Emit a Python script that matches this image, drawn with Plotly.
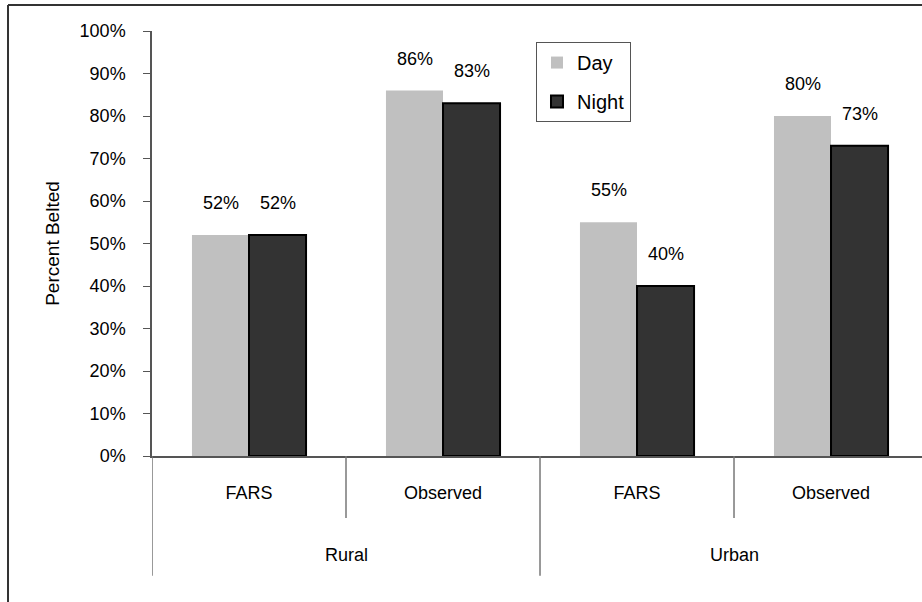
import plotly.graph_objects as go

# Seat-belt use by setting, data source and time of day
groups = ["Rural", "Rural", "Urban", "Urban"]
sources = ["FARS", "Observed", "FARS", "Observed"]
categories = ["Rural FARS", "Rural Observed", "Urban FARS", "Urban Observed"]
day = [52, 86, 55, 80]
night = [52, 83, 40, 73]
y_ticks = list(range(0, 101, 10))
y_tick_text = [f"{v}%" for v in y_ticks]

FONT = "Liberation Sans Narrow, Arial Narrow, Liberation Sans, Arial, sans-serif"
AXIS = "#555555"
DIV = "#777777"

fig = go.Figure()
fig.add_trace(go.Bar(name="Day", x=categories, y=day, marker=dict(color="#c0c0c0", line=dict(width=0)),
                     legendgroup="d"))
fig.add_trace(go.Bar(name="Night", x=categories, y=night, marker=dict(color="#333333", line=dict(color="#000000", width=2)),
                     legendgroup="n"))

# value labels above each bar
for i, c in enumerate(categories):
    for vals, dx in ((day, -28.5), (night, 28.5)):
        fig.add_annotation(x=c, y=vals[i], text=f"{vals[i]}%", showarrow=False, xshift=dx,
                           yanchor="bottom", yshift=20, font=dict(size=18, color="#000"))

# two-level category axis: dividers and outer labels
n = len(categories)
for k in range(n + 1):
    b = k - 0.5
    outer = (k % 2 == 0)
    fig.add_shape(type="line", xref="x", yref="paper", x0=b, x1=b, y0=0,
                  y1=-0.282 if outer else -0.146, line=dict(color=DIV, width=1.5))
for g in sorted(set(groups)):
    idx = [i for i, gg in enumerate(groups) if gg == g]
    fig.add_annotation(x=sum(idx) / len(idx), y=-0.233, xref="x", yref="paper", text=g,
                       showarrow=False, yanchor="middle", font=dict(size=18, color="#000"))

# outer frame
fig.add_shape(type="line", xref="paper", yref="paper", x0=-0.187, x1=1.2, y0=1.061, y1=1.061,
              line=dict(color="#333333", width=2))
fig.add_shape(type="line", xref="paper", yref="paper", x0=-0.187, x1=-0.187, y0=1.061, y1=-0.5,
              line=dict(color="#333333", width=2))

fig.update_layout(
    width=922, height=602,
    margin=dict(l=152, r=0, t=31, b=146),
    paper_bgcolor="white", plot_bgcolor="white",
    font=dict(family=FONT, size=18, color="#000"),
    barmode="group", bargap=0.412, bargroupgap=0,
    showlegend=True,
    legend=dict(x=0.4987, y=0.974, xanchor="left", yanchor="top", bgcolor="white",
                bordercolor="#555555", borderwidth=1, font=dict(size=20),
                tracegroupgap=10, itemwidth=30),
    xaxis=dict(type="category", range=[-0.5, 3.469], tickmode="array", tickvals=categories,
               ticktext=sources, ticks="", showline=True, linecolor=AXIS, linewidth=1.5,
               showgrid=False, zeroline=False, ticklabelstandoff=20, tickfont=dict(size=18)),
    yaxis=dict(range=[0, 100], tickmode="array", tickvals=y_ticks, ticktext=y_tick_text,
               ticks="outside", ticklen=7,
               tickcolor=AXIS, showline=True, linecolor=AXIS, linewidth=1.5, showgrid=False,
               zeroline=False, ticklabelstandoff=14, tickfont=dict(size=18),
               title=dict(text="Percent Belted", standoff=15, font=dict(size=19))),
)

fig.write_html("out.html")
